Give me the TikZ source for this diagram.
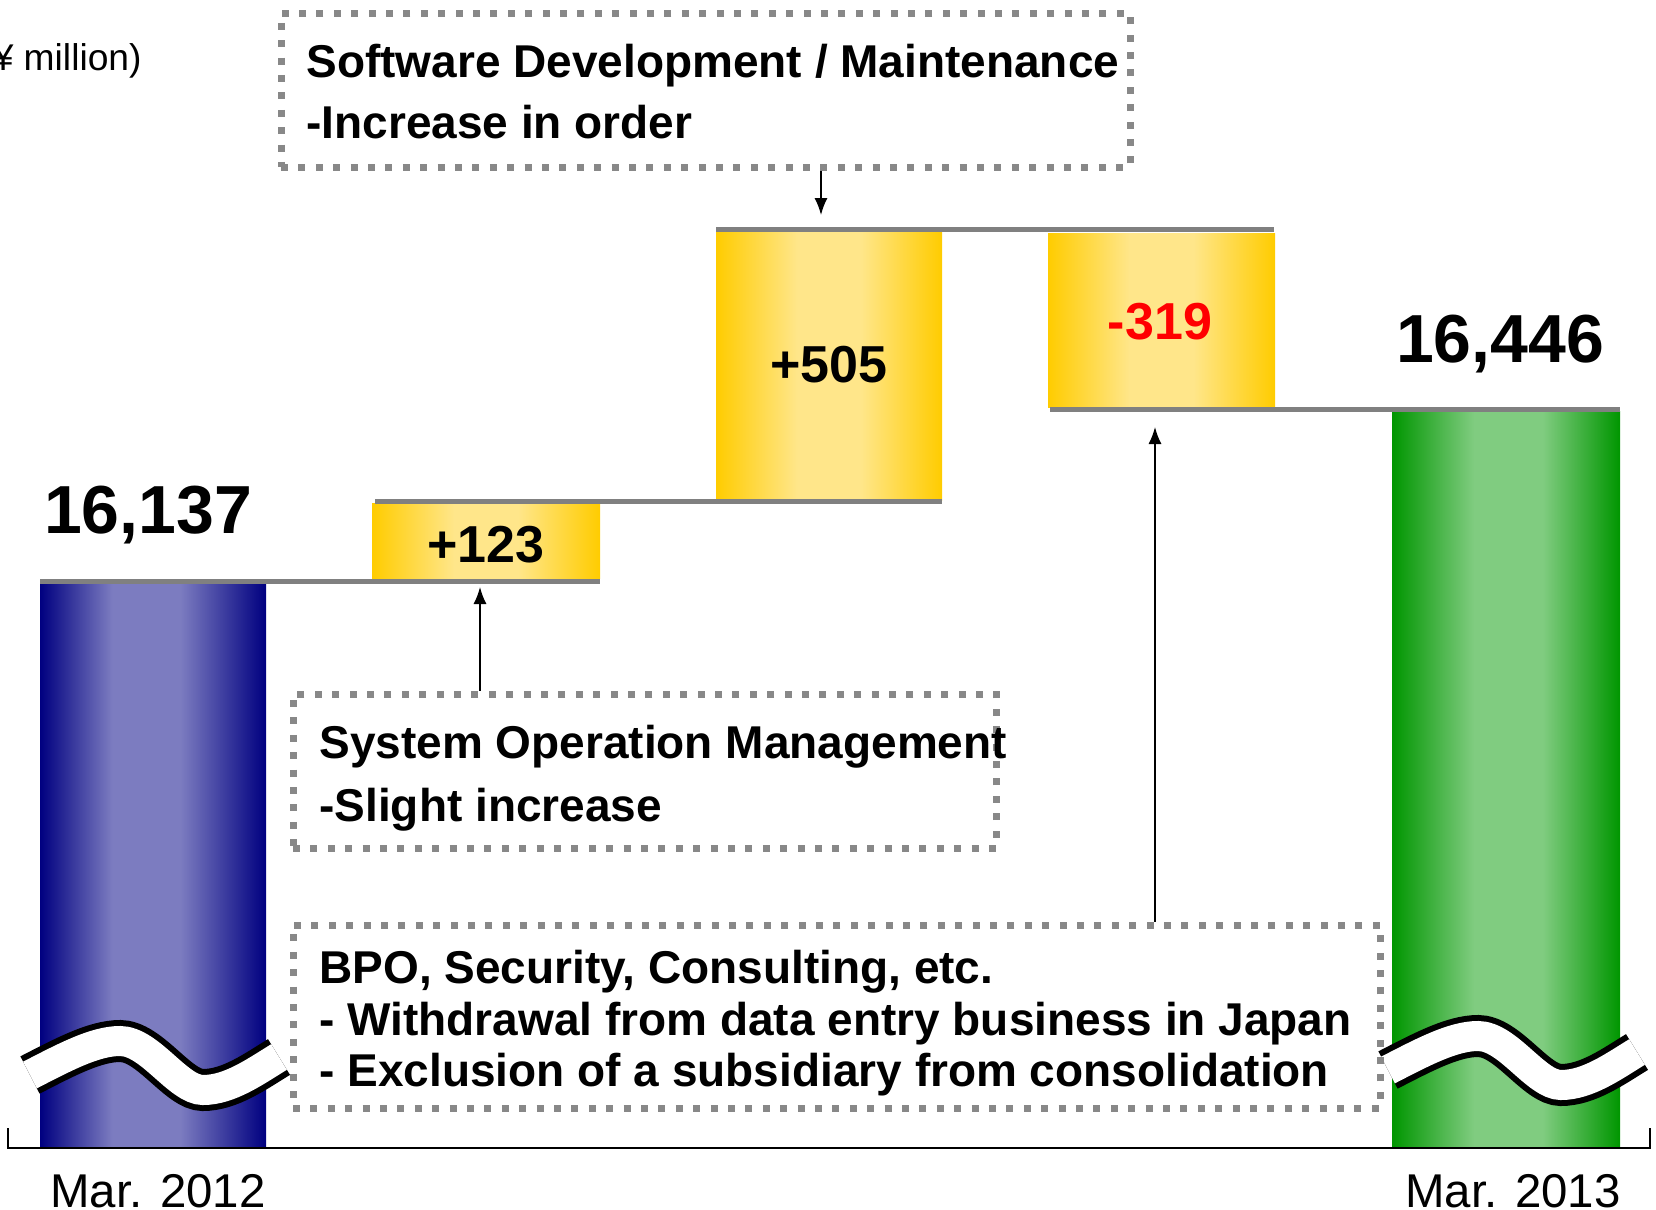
\documentclass[tikz,border=0pt]{standalone}
\usepackage{fontspec}
\setmainfont{Liberation Sans}
\usepackage{tikz}
\usetikzlibrary{arrows.meta}

\definecolor{barNavy}{RGB}{0,0,128}
\definecolor{barLilac}{RGB}{124,124,192}
\definecolor{barGreen}{RGB}{0,150,0}
\definecolor{barMint}{RGB}{128,204,128}
\definecolor{stepGold}{RGB}{255,204,0}
\definecolor{stepCream}{RGB}{255,230,138}
\definecolor{levelGray}{RGB}{128,128,128}
\definecolor{dotGray}{RGB}{136,136,136}

% the path fills 25bp to 75bp of a shading
\pgfdeclarehorizontalshading{navyBar}{100bp}{color(0bp)=(barNavy); color(25bp)=(barNavy); color(41bp)=(barLilac); color(56bp)=(barLilac); color(75bp)=(barNavy); color(100bp)=(barNavy)}
\pgfdeclarehorizontalshading{greenBar}{100bp}{color(0bp)=(barGreen); color(25bp)=(barGreen); color(43bp)=(barMint); color(58bp)=(barMint); color(75bp)=(barGreen); color(100bp)=(barGreen)}
\pgfdeclarehorizontalshading{goldStep}{100bp}{color(0bp)=(stepGold); color(25bp)=(stepGold); color(43bp)=(stepCream); color(57bp)=(stepCream); color(75bp)=(stepGold); color(100bp)=(stepGold)}

\begin{document}
\begin{tikzpicture}[x=0.5pt, y=-0.5pt,
		level/.style={line width=2.5pt, levelGray},
		note/.style={draw=dotGray, line width=3.5pt, dash pattern=on 3.5pt off 5.2pt, inner sep=0pt},
		notetext/.style={anchor=base west, inner sep=0pt, font=\fontsize{23}{28}\selectfont\bfseries},
		value/.style={anchor=base, inner sep=0pt, font=\fontsize{26}{30}\selectfont\bfseries},
		total/.style={anchor=base, inner sep=0pt, font=\fontsize{34}{40}\selectfont\bfseries},
		datelabel/.style={anchor=base, inner sep=0pt, font=\fontsize{23.7}{28}\selectfont},
		pointer/.style={line width=0.75pt, -{Latex[length=8.5pt,width=6.5pt]}},
		cut/.style={line width=3pt, double=white, double distance=15pt}
	]
	
	\useasboundingbox (0,0) rectangle (1656,1210);
	\clip (0,0) rectangle (1656,1210);
	
	\def\baseY{1148} % bottom of the bars
	\def\startY{581} % level of Mar. 2012
	\def\somY{501} % level after +123
	\def\swY{229} % level after +505
	\def\endY{409} % level of Mar. 2013
	
	% unit
	\node[anchor=base east, inner sep=0pt, font=\fontsize{18.6}{22}\selectfont] (unit) at (142,70) {(¥ million)};
	
	% the two totals
	\shade[shading=navyBar] (40,\startY+2) rectangle (266,\baseY);
	\shade[shading=greenBar] (1392,\endY+2) rectangle (1620,\baseY);
	
	% the steps
	\shade[shading=goldStep] (372,\somY+2) rectangle (600,\startY-3); % +123
	\shade[shading=goldStep] (716,\swY+2) rectangle (942,\somY-1); % +505
	\shade[shading=goldStep] (1048,\swY+4) rectangle (1275,\endY-2); % -319
	
	% levels
	\draw[level] (40,\startY) -- (600,\startY);
	\draw[level] (375,\somY) -- (942,\somY);
	\draw[level] (716,\swY) -- (1274,\swY);
	\draw[level] (1050,\endY) -- (1620,\endY);
	
	% values
	\node[total] (startVal) at (148,533) {16,137};
	\node[total] (endVal) at (1500,362) {16,446};
	\node[value] (somVal) at (486,562) {+123};
	\node[value] (swVal) at (829,382) {+505};
	\node[value, red] (bpoVal) at (1160,339) {-319};
	
	% breaks in the bars
	\draw[cut] (30,1075) .. controls (65,1057) and (95,1041) .. (120,1041) .. controls (150,1041) and (178,1090) .. (203,1090) .. controls (230,1090) and (256,1071) .. (279,1057);
	\begin{scope}[shift={(1358,-5)}]
		\draw[cut] (30,1075) .. controls (65,1057) and (95,1041) .. (120,1041) .. controls (150,1041) and (178,1090) .. (203,1090) .. controls (230,1090) and (256,1071) .. (279,1057);
	\end{scope}
	
	% axis
	\draw[line width=1pt] (8,1128) -- (8,\baseY) -- (1650,\baseY) -- (1650,1128);
	\node[datelabel] (startDate) at (158,1207) {Mar. 2012};
	\node[datelabel] (endDate) at (1513,1207) {Mar. 2013};
	
	% notes
	\node[note, minimum width=424.5pt, minimum height=77pt] (swBox) at (705.5,90) {};
	\node[notetext] (swTitle) at (306,77) {Software Development / Maintenance};
	\node[notetext] (swNote) at (306,138) {-Increase in order};
	
	\node[note, minimum width=351.5pt, minimum height=77pt] (somBox) at (644.5,771) {};
	\node[notetext] (somTitle) at (319,758) {System Operation Management};
	\node[notetext] (somNote) at (319,821) {-Slight increase};
	
	\node[note, minimum width=543.5pt, minimum height=91.5pt] (bpoBox) at (836.5,1016.5) {};
	\node[notetext] (bpoTitle) at (319,983) {BPO, Security, Consulting, etc.};
	\node[notetext] (bpoNoteA) at (319,1035) {- Withdrawal from data entry business in Japan};
	\node[notetext] (bpoNoteB) at (319,1086) {- Exclusion of a subsidiary from consolidation};
	
	% pointers
	\coordinate (swTip) at (821,215);
	\coordinate (somTip) at (480,587);
	\coordinate (bpoTip) at (1155,427);
	\draw[pointer] (swBox.south -| swTip) -- (swTip);
	\draw[pointer] (somBox.north -| somTip) -- (somTip);
	\draw[pointer] (bpoBox.north -| bpoTip) -- (bpoTip);
	
\end{tikzpicture}
\end{document}
